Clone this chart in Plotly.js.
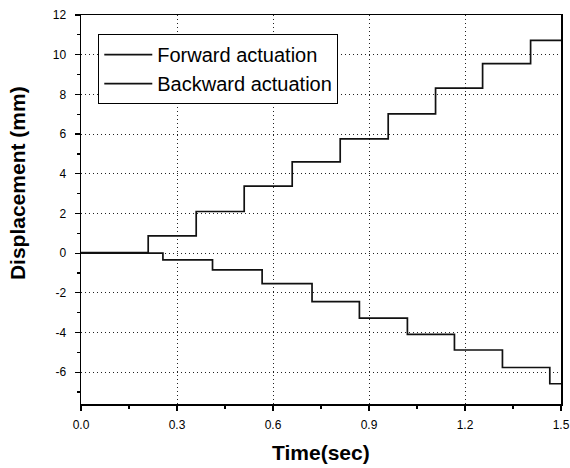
<!DOCTYPE html>
<html>
<head>
<meta charset="utf-8">
<script src="https://cdn.plot.ly/plotly-3.0.1.min.js"></script>
<style>html,body{margin:0;padding:0;background:#fff;}#chart{width:570px;height:468px;}</style>
</head>
<body>
<div id="chart"></div>
<script>
// Forward actuation: step times (s) and displacement levels (mm)
const fwdTime = [0, 0.21, 0.36, 0.51, 0.66, 0.81, 0.96, 1.108, 1.255, 1.405, 1.5];
const fwdDisp = [0.03, 0.87, 2.1, 3.38, 4.6, 5.76, 7.02, 8.32, 9.55, 10.72, 10.72];
// Backward actuation
const bwdTime = [0, 0.256, 0.411, 0.566, 0.722, 0.87, 1.02, 1.167, 1.317, 1.465, 1.5];
const bwdDisp = [0, -0.34, -0.84, -1.53, -2.44, -3.27, -4.09, -4.88, -5.76, -6.58, -6.58];
const seriesNames = ["Forward actuation", "Backward actuation"];
const xTickVals = [0, 0.3, 0.6, 0.9, 1.2, 1.5];
const xTickText = ["0.0", "0.3", "0.6", "0.9", "1.2", "1.5"];
const xMinorVals = [0.15, 0.45, 0.75, 1.05, 1.35];
const yTickVals = [-6, -4, -2, 0, 2, 4, 6, 8, 10, 12];
const yTickText = ["-6", "-4", "-2", "0", "2", "4", "6", "8", "10", "12"];
const yMinorVals = [-7, -5, -3, -1, 1, 3, 5, 7, 9, 11];

const FONT = 'Liberation Sans, Arial, sans-serif';
const lineStyle = {color: '#111', width: 1.7, shape: 'hv'};
const traces = [
  {x: fwdTime, y: fwdDisp, name: seriesNames[0], mode: 'lines', line: lineStyle},
  {x: bwdTime, y: bwdDisp, name: seriesNames[1], mode: 'lines', line: lineStyle}
];

const axisCommon = {
  showline: true, linecolor: '#000', linewidth: 1.5, mirror: true,
  ticks: 'outside', ticklen: 5, tickwidth: 1.2, tickcolor: '#000',
  showgrid: true, gridcolor: '#222', gridwidth: 1, griddash: '1px,3px',
  zeroline: false, ticklabeloverflow: 'allow',
  tickfont: {family: FONT, size: 12, color: '#000'}
};

const layout = {
  width: 570, height: 468,
  margin: {l: 81, r: 9, t: 15, b: 64},
  paper_bgcolor: '#fff', plot_bgcolor: '#fff',
  showlegend: true,
  legend: {
    x: 0.036, y: 0.951, xanchor: 'left', yanchor: 'top',
    bgcolor: '#fff', bordercolor: '#000', borderwidth: 1,
    font: {family: FONT, size: 20, color: '#000'},
    itemwidth: 48, tracegroupgap: 0
  },
  xaxis: Object.assign({}, axisCommon, {
    range: [0, 1.5], tickmode: 'array', tickvals: xTickVals, ticktext: xTickText,
    ticklabelstandoff: 4,
    minor: {ticks: 'outside', ticklen: 3, tickcolor: '#000', tickmode: 'array', tickvals: xMinorVals, showgrid: false}
  }),
  yaxis: Object.assign({}, axisCommon, {
    range: [-7.6, 12], tickmode: 'array', tickvals: yTickVals, ticktext: yTickText,
    ticklabelstandoff: 6,
    minor: {ticks: 'outside', ticklen: 3, tickcolor: '#000', tickmode: 'array', tickvals: yMinorVals, showgrid: false}
  }),
  annotations: [{
    text: 'Displacement (mm)', textangle: -90, showarrow: false,
    xref: 'paper', yref: 'paper', x: -0.132, y: 0.567, xanchor: 'center', yanchor: 'middle',
    font: {family: FONT, size: 21, color: '#000', weight: 'bold'}
  }, {
    text: 'Time(sec)', showarrow: false,
    xref: 'paper', yref: 'paper', x: 0.5, y: -0.125, xanchor: 'center', yanchor: 'middle',
    font: {family: FONT, size: 21, color: '#000', weight: 'bold'}
  }]
};

Plotly.newPlot('chart', traces, layout, {displayModeBar: false, staticPlot: true});
</script>
</body>
</html>
